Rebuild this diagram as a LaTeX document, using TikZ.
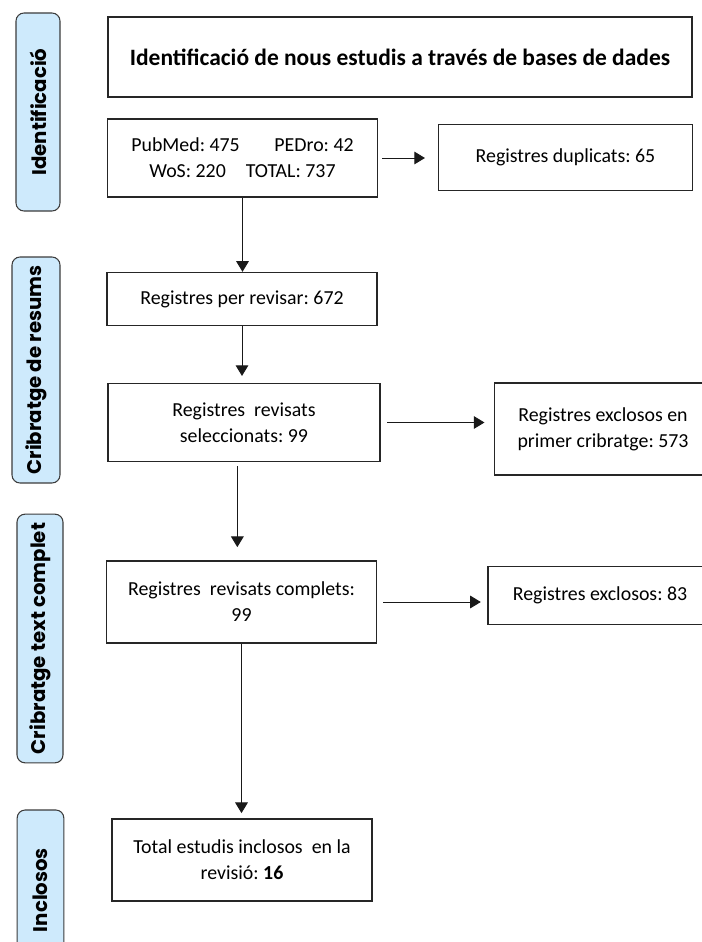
\documentclass[tikz,border=0pt]{standalone}
\usepackage{fontspec}
\setmainfont{Carlito}
\newfontfamily\phasefont{Poppins}
\usetikzlibrary{arrows.meta}
\definecolor{phaseblue}{RGB}{206,234,252}
\definecolor{phaseline}{RGB}{60,60,60}
\frenchspacing

\begin{document}
\begin{tikzpicture}[x=0.75pt,y=-0.75pt,>={Triangle[length=8pt,width=9.5pt]},
  box/.style={draw=black!85,line width=0.8pt,align=center,inner sep=2pt,font=\fontsize{14.9}{19.5}\selectfont},
  phase/.style={draw=phaseline,fill=phaseblue,line width=0.8pt,rounded corners=6pt,rotate=90,inner sep=0pt,font=\phasefont\bfseries\fontsize{14.8}{17}\selectfont},
  flow/.style={->,line width=0.75pt,black!90}]
\clip (0,0) rectangle (702,942);
% phase labels on the left
\node[phase,minimum width=148.5pt,minimum height=33pt] (ph1) at (38,112) {Identificació};
\node[phase,minimum width=169.5pt,minimum height=36pt] (ph2) at (36,370) {Cribratge de resums};
\node[phase,minimum width=186.5pt,minimum height=34.5pt] (ph3) at (40,638.5) {Cribratge text complet};
\node[phase,minimum width=120pt,minimum height=35pt] (ph4) at (40.5,890) {Inclosos};
% boxes
\node[box,minimum width=438pt,minimum height=60pt,font=\bfseries\fontsize{17.6}{21}\selectfont] (title) at (400,57) {Identificació de nous estudis a través de bases de dades};
\node[box,minimum width=202pt,minimum height=58.5pt] (src) at (242.5,158) {PubMed: 475\hspace{26pt}PEDro: 42\\WoS: 220\hspace{15pt}TOTAL: 737};
\node[box,minimum width=190pt,minimum height=50pt] (dup) at (565.5,157.5) {Registres duplicats: 65};
\node[box,minimum width=202.5pt,minimum height=40pt] (rev) at (242,299) {Registres per revisar: 672};
\node[box,minimum width=204pt,minimum height=59pt] (sel) at (244,422.5) {Registres~ revisats\\seleccionats: 99};
\node[box,minimum width=163pt,minimum height=69pt] (exc1) at (603,429) {Registres exclosos en\\primer cribratge: 573};
\node[box,minimum width=203pt,minimum height=61.5pt] (comp) at (241.5,602) {Registres~ revisats complets:\\99};
\node[box,minimum width=168pt,minimum height=43pt] (exc2) at (600,595.5) {Registres exclosos: 83};
\node[box,minimum width=195pt,minimum height=61.5pt] (incl) at (242,860) {Total estudis inclosos~ en la\\revisió: \textbf{16}};
% connectors
\draw[flow,shorten <=3.5pt,shorten >=10pt] (src.east) -- (src.east -| dup.west);
\draw[flow] (src.south) -- (src.south |- rev.north);
\draw[flow,shorten >=5pt] (rev.south) -- (rev.south |- sel.north);
\draw[flow,shorten <=5pt,shorten >=7pt] (sel.east) -- (sel.east -| exc1.west);
\draw[flow,shorten <=3pt,shorten >=10pt] ([xshift=-5pt]sel.south) -- ([xshift=-5pt]sel.south |- comp.north);
\draw[flow,shorten <=4.5pt,shorten >=5pt] (comp.east) -- (comp.east -| exc2.west);
\draw[flow,shorten >=4pt] (comp.south) -- (comp.south |- incl.north);
\end{tikzpicture}
\end{document}
